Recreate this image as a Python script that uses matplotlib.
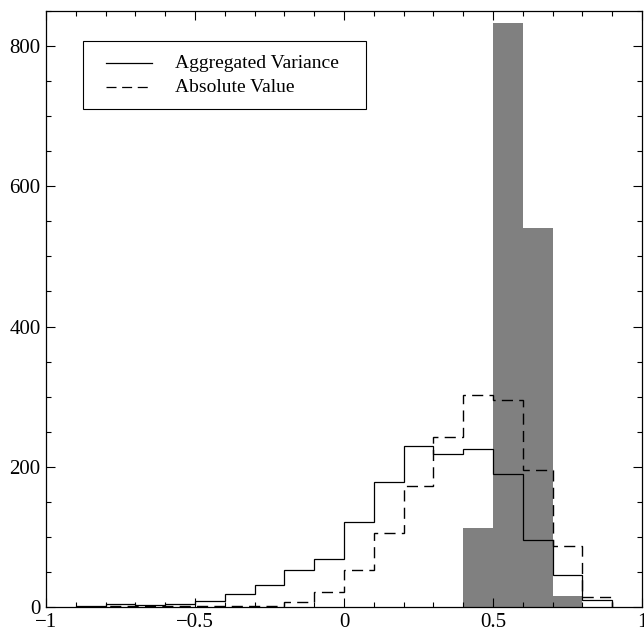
import matplotlib
matplotlib.use("Agg")
import matplotlib.pyplot as plt
from matplotlib.patches import Rectangle
from matplotlib.lines import Line2D
import numpy as np

plt.rcParams["font.family"] = ["Liberation Serif", "DejaVu Serif"]

# bin edges (width 0.1)
edges = np.round(np.arange(-0.9, 0.91, 0.1), 2)

# per-bin counts
aggregated_variance = [1, 4, 3, 4, 9, 18, 31, 53, 69, 121,
                       178, 229, 218, 225, 190, 95, 45, 10]
absolute_value = [0, 2, 1, 1, 2, 1, 1, 7, 22, 53,
                  106, 172, 243, 303, 295, 195, 87, 14]

# filled grey histogram
bar_left = [0.4, 0.5, 0.6, 0.7]
bar_counts = [112, 833, 540, 15]

labels = ["Aggregated Variance", "Absolute Value"]
DASH = (0, (8, 4.5))

W, H = 644, 631
fig = plt.figure(figsize=(W / 100, H / 100), dpi=100)
ax = fig.add_axes([46 / W, 24 / H, (642 - 46) / W, (607 - 11) / H])

ax.bar(bar_left, bar_counts, width=0.1, align="edge", color="#808080",
       edgecolor="none", zorder=1)

ax.stairs(aggregated_variance, edges, color="k", lw=0.9, baseline=0, zorder=2)
ax.stairs(absolute_value, edges, color="k", lw=1.0, ls=DASH, baseline=0,
          zorder=3)

ax.set_xlim(-1, 1)
ax.set_ylim(0, 850)
ax.set_xticks([-1, -0.5, 0, 0.5, 1])
ax.set_xticklabels(["\u22121", "\u22120.5", "0", "0.5", "1"])
ax.set_xticks(np.arange(-1, 1.001, 0.1), minor=True)
ax.set_yticks([0, 200, 400, 600, 800])
ax.set_yticks(np.arange(0, 851, 50), minor=True)

ax.tick_params(which="both", direction="in", top=True, right=True,
               labelsize=15, width=0.8, pad=4)
ax.tick_params(which="major", length=6.5)
ax.tick_params(which="minor", length=3.4)
for s in ax.spines.values():
    s.set_linewidth(0.9)


# legend box drawn by hand so its padding matches the original
def fx(px):
    return px / W


def fy(py):
    return 1 - py / H


fig.patches.append(Rectangle((fx(83), fy(109)), fx(366) - fx(83),
                             fy(41) - fy(109), transform=fig.transFigure,
                             facecolor="white", edgecolor="k", lw=0.8,
                             zorder=5))
styles = ["-", DASH]
for i, (lab, st) in enumerate(zip(labels, styles)):
    y = fy(63 + 24 * i)
    fig.lines.append(Line2D([fx(106), fx(152)], [y, y],
                            transform=fig.transFigure, color="k",
                            lw=0.9, ls=st, zorder=6))
    fig.text(fx(175), y, lab, fontsize=14, va="center", ha="left",
             zorder=7)

fig.savefig("out.png", dpi=100)
